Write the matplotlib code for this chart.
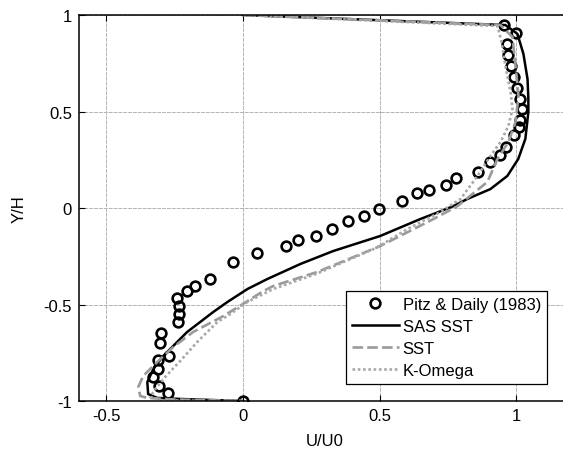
import matplotlib
matplotlib.use("Agg")
import matplotlib.pyplot as plt

plt.rcParams['font.family'] = ['Liberation Sans', 'DejaVu Sans']

# Experimental data, Pitz & Daily (1983)
exp_u = [0.956, 0.997, 0.967, 0.971, 0.982, 0.993, 1.004, 1.015, 1.019, 1.015,
         1.008, 0.993, 0.964, 0.942, 0.902, 0.861, 0.781, 0.744, 0.682, 0.638,
         0.583, 0.499, 0.444, 0.385, 0.327, 0.268, 0.202, 0.158, 0.052, -0.036,
         -0.120, -0.175, -0.204, -0.240, -0.233, -0.233, -0.237, -0.299, -0.303,
         -0.270, -0.310, -0.310, -0.328, -0.306, -0.273, 0.0]
exp_y = [0.948, 0.907, 0.850, 0.793, 0.736, 0.679, 0.622, 0.565, 0.513, 0.456,
         0.420, 0.378, 0.316, 0.275, 0.238, 0.187, 0.155, 0.119, 0.093, 0.078,
         0.036, -0.005, -0.041, -0.067, -0.109, -0.145, -0.166, -0.197, -0.233,
         -0.280, -0.368, -0.404, -0.430, -0.466, -0.508, -0.549, -0.591, -0.648,
         -0.699, -0.767, -0.788, -0.834, -0.876, -0.922, -0.959, -1.0]

# SAS SST
sas_u = [0.0, 0.960, 1.004, 1.026, 1.041, 1.044, 1.044, 1.033, 1.007, 0.967,
         0.905, 0.821, 0.770, 0.697, 0.649, 0.502, 0.330, 0.210, 0.089, 0.016,
         -0.057, -0.109, -0.204, -0.292, -0.328, -0.350, -0.347, -0.314, -0.219, 0.0]
sas_y = [1.0, 0.948, 0.902, 0.798, 0.668, 0.565, 0.497, 0.358, 0.254, 0.166,
         0.098, 0.047, 0.010, -0.031, -0.057, -0.145, -0.223, -0.290, -0.368, -0.420,
         -0.487, -0.539, -0.642, -0.767, -0.834, -0.902, -0.964, -0.984, -0.990, -1.0]

# SST
sst_u = [0.0, 0.942, 0.986, 0.997, 1.008, 0.997, 0.971, 0.931, 0.894, 0.785,
         0.697, 0.502, 0.271, 0.111, 0.075, 0.0, -0.072, -0.182, -0.255, -0.314,
         -0.365, -0.383, -0.376, -0.350, -0.250, 0.0]
sst_y = [1.0, 0.948, 0.886, 0.736, 0.580, 0.446, 0.342, 0.254, 0.135, 0.010,
         -0.057, -0.197, -0.332, -0.404, -0.430, -0.497, -0.560, -0.642, -0.720, -0.798,
         -0.870, -0.927, -0.974, -0.984, -0.992, -1.0]

# K-Omega
kw_u = [0.0, 0.931, 0.946, 0.960, 0.979, 0.986, 0.971, 0.942, 0.905, 0.858,
        0.796, 0.722, 0.600, 0.490, 0.270, 0.110, 0.016, -0.046, -0.094, -0.164,
        -0.230, -0.285, -0.321, -0.339, -0.303, -0.200, 0.0]
kw_y = [1.0, 0.943, 0.860, 0.736, 0.601, 0.513, 0.425, 0.342, 0.269, 0.166,
        0.047, -0.021, -0.110, -0.205, -0.340, -0.420, -0.487, -0.549, -0.591, -0.689,
        -0.793, -0.876, -0.938, -0.979, -0.995, -0.998, -1.0]

x_ticks = [-0.5, 0, 0.5, 1]
x_tick_labels = ['-0.5', '0', '0.5', '1']
y_ticks = [-1, -0.5, 0, 0.5, 1]
y_tick_labels = ['-1', '-0.5', '0', '0.5', '1']

fig = plt.figure(figsize=(5.63, 4.56), dpi=100)
ax = fig.add_axes([0.1403, 0.1184, 0.8739, 0.8465])

ax.plot(exp_u, exp_y, linestyle='none', marker='o', markersize=7,
        markerfacecolor='none', markeredgecolor='black', markeredgewidth=1.9,
        label='Pitz & Daily (1983)')
ax.plot(sas_u, sas_y, color='black', linewidth=1.8, label='SAS SST')
ax.plot(sst_u, sst_y, color='#9a9a9a', linewidth=1.9, linestyle=(0, (4, 1.6)),
        label='SST')
ax.plot(kw_u, kw_y, color='#a8a8a8', linewidth=1.9, linestyle=(0, (1, 1)),
        label='K-Omega')

ax.set_xlim(-0.6, 1.2)
ax.set_ylim(-1, 1)
ax.set_xticks(x_ticks)
ax.set_xticklabels(x_tick_labels)
ax.set_yticks(y_ticks)
ax.set_yticklabels(y_tick_labels)
ax.tick_params(direction='in', length=4, width=0.8, labelsize=12,
               top=True, right=True, pad=5)
ax.grid(True, color='#b4b4b4', linewidth=0.7, linestyle=(0, (4, 1)))
ax.set_axisbelow(True)
for s in ax.spines.values():
    s.set_linewidth(1.1)

ax.set_xlabel('U/U0', fontsize=12, labelpad=7)
ax.set_ylabel('Y/H', fontsize=12, labelpad=12)

leg = ax.legend(loc='upper left', bbox_to_anchor=(0.6146, 0.3596),
                bbox_transform=fig.transFigure, borderaxespad=0,
                fontsize=12, fancybox=False, framealpha=1,
                edgecolor='black', handlelength=2.8, handletextpad=0.25,
                labelspacing=0.42, borderpad=0.35)
leg.get_frame().set_linewidth(0.9)

fig.savefig('out.png', dpi=100)
